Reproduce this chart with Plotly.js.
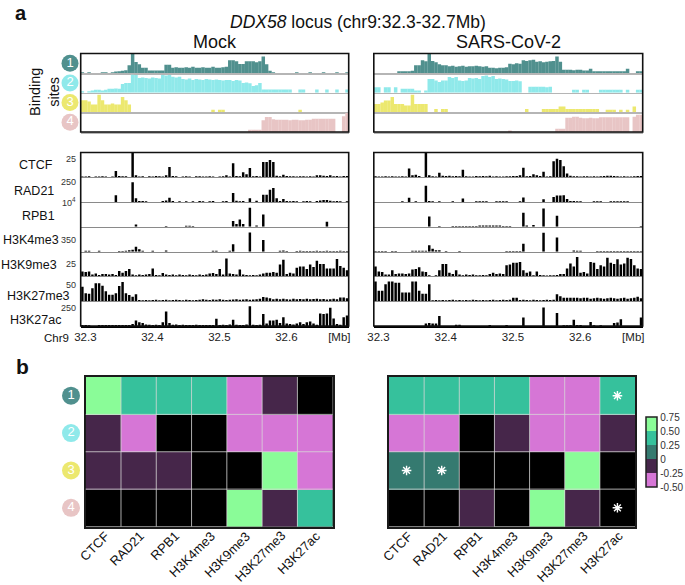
<!DOCTYPE html>
<html>
<head>
<meta charset="utf-8">
<script src="https://cdn.plot.ly/plotly-3.0.1.min.js"></script>
<style>html,body{margin:0;padding:0;background:#fff}</style>
</head>
<body>
<div id="chart" style="width:685px;height:585px"></div>
<script>
// ---------------- data ----------------
// genome bins, 5 kb each, chr9 32.293-32.693 Mb (bin centres)
const bins = Array.from({ length: 80 }, (_, i) => +(32.2955 + i * 0.005).toFixed(4));

const siteIds = ["1", "2", "3", "4"];

// binding-site tracks, % of track height (Mock)
const mockSite1 = [5,0,5,0,0,0,5,5,0,5,8,10,12,15,40,100,57,45,28,28,
  13,13,13,13,13,43,43,28,30,28,28,30,28,33,28,28,30,28,28,33,
  28,28,30,33,66,66,60,47,47,60,60,60,55,60,85,45,12,5,0,0,
  0,0,0,0,5,0,0,0,5,0,0,0,5,0,0,0,5,0,0,5];
const mockSite2 = [8,0,8,12,15,15,12,15,20,20,22,20,45,50,50,92,90,75,78,75,
  72,78,75,72,90,88,90,82,78,82,70,68,72,65,70,68,65,70,68,65,
  68,65,62,65,65,60,65,62,50,52,48,35,38,50,17,17,17,17,17,17,
  17,17,17,0,0,17,17,0,0,0,17,0,0,17,0,0,17,0,0,17];
const mockSite3 = [62,62,55,40,40,90,62,40,40,45,40,40,78,62,40,0,0,0,0,0,
  0,0,0,0,0,0,0,0,0,0,0,0,0,0,0,0,0,0,0,14,
  0,14,14,0,0,0,0,0,0,0,0,0,0,0,0,0,0,0,0,0,
  0,0,0,0,0,14,0,0,0,0,0,0,0,0,0,0,0,0,0,0];
const mockSite4 = [0,0,0,0,0,0,0,0,0,0,0,0,0,0,0,0,0,0,0,0,
  0,0,0,0,0,0,0,0,0,0,0,0,0,0,0,0,0,0,0,0,
  0,0,0,0,0,0,0,0,0,0,11,11,11,11,60,76,76,65,62,62,
  62,62,60,62,62,60,60,62,62,68,68,68,68,68,68,68,0,0,80,97];

// binding-site tracks (SARS-CoV-2)
const sarsSite1 = [0,0,0,0,0,0,0,10,10,10,10,12,40,40,65,60,100,62,55,45,
  40,40,35,38,33,35,38,33,35,35,38,35,33,35,28,28,25,28,28,30,
  48,45,50,48,65,62,65,68,58,60,55,58,60,62,85,58,17,17,17,15,
  17,17,14,14,22,10,10,10,10,10,10,10,10,10,10,22,0,0,10,10];
const sarsSite2 = [28,28,0,28,28,0,28,0,20,20,20,20,12,12,0,12,70,70,62,55,
  62,62,80,75,80,62,60,62,75,72,75,70,85,88,80,85,70,72,70,68,
  60,60,62,58,0,0,30,30,30,30,30,28,30,0,0,0,0,0,0,15,
  15,0,15,15,0,0,0,15,15,15,15,15,15,15,0,15,0,0,15,15];
const sarsSite3 = [43,43,50,60,60,78,43,43,43,35,35,90,43,43,43,43,0,0,17,0,
  17,17,0,0,0,0,0,0,0,0,0,0,0,0,0,0,0,0,0,0,
  0,0,0,0,0,17,0,0,0,0,17,17,17,17,17,30,30,17,17,17,
  17,17,17,17,17,17,17,0,0,14,14,14,0,14,0,14,0,30,0,0];
const sarsSite4 = [0,0,0,0,0,0,0,0,0,0,0,0,0,0,0,0,0,0,0,0,
  0,0,0,0,0,0,0,0,0,0,0,0,0,0,0,0,0,0,0,0,
  8,0,0,0,0,0,0,0,0,0,0,0,0,0,17,17,17,72,72,78,
  78,72,70,70,72,70,70,75,75,75,75,75,75,75,75,75,0,78,88,88];

// ChIP-seq tracks, % of track scale
const chipNames = ["CTCF", "RAD21", "RPB1", "H3K4me3", "H3K9me3", "H3K27me3", "H3K27ac"];
const chipScale = ["25", "250", "10<sup>4</sup>", "350", "25", "50", "250"];

const mockCTCF = [3,3,4,0,3,3,4,3,0,3,25,5,4,4,0,100,8,3,4,0,
  4,3,5,4,3,8,42,5,4,0,3,4,3,0,4,4,3,3,4,3,
  0,3,4,8,3,57,5,4,20,12,37,4,5,3,62,62,70,62,6,4,
  10,5,4,4,3,4,4,3,4,3,8,8,6,5,8,4,5,3,5,5];
const mockRAD21 = [0,0,0,0,0,0,0,0,0,0,28,0,0,0,0,80,15,4,4,3,
  0,0,0,0,4,6,17,4,0,3,0,3,0,3,0,4,3,0,3,4,
  0,0,3,4,0,37,5,3,4,0,15,0,5,0,30,30,50,57,15,4,
  12,4,3,4,3,0,3,4,3,0,4,6,8,8,5,3,4,3,0,3];
const mockRPB1 = [0,0,0,0,0,0,0,0,0,0,0,0,0,0,0,0,10,0,0,0,
  0,0,0,0,0,3,0,0,0,0,0,4,4,3,0,0,0,0,0,0,
  0,0,0,0,0,24,12,30,12,0,77,0,5,0,50,0,0,0,0,0,
  0,0,0,0,0,0,0,0,0,0,0,0,0,21,0,0,0,0,0,0];
const mockH3K4me3 = [0,4,4,0,0,4,0,0,0,0,0,3,3,4,6,8,20,10,4,0,
  0,4,0,0,0,5,0,0,0,0,0,0,0,0,0,0,0,0,0,4,
  4,0,0,0,4,30,0,0,0,0,77,0,0,0,47,0,0,0,0,4,
  5,3,0,0,3,4,3,3,3,3,4,3,3,4,3,3,3,4,3,3];
const mockH3K9me3 = [20,18,20,8,12,6,10,10,8,10,6,22,15,22,30,8,5,8,6,8,
  10,32,6,5,14,8,6,8,5,8,6,5,8,6,5,8,6,8,12,14,
  10,30,8,72,12,10,8,28,8,6,5,6,5,8,12,15,15,18,15,48,
  67,10,15,12,35,40,40,30,48,38,63,50,50,32,32,32,70,42,35,25];
const mockH3K27me3 = [58,32,30,52,72,72,62,40,26,26,32,61,78,32,25,18,28,5,4,5,
  4,5,6,4,5,6,4,5,6,5,4,6,5,4,5,6,8,6,5,7,
  6,8,6,5,6,7,8,6,7,8,6,7,8,10,17,15,12,8,10,8,
  10,8,7,10,8,9,8,10,8,9,10,8,9,7,8,10,8,15,15,12];
const mockH3K27ac = [4,4,3,0,0,4,4,4,4,4,4,4,4,4,4,8,22,15,12,6,
  5,4,5,4,15,58,12,5,6,4,5,4,4,4,5,4,4,4,4,4,
  29,4,5,4,6,25,5,4,4,6,80,5,4,5,48,10,22,22,25,12,
  35,10,8,6,10,15,8,15,18,10,5,50,48,50,74,30,8,5,35,42];

const sarsCTCF = [4,3,3,4,3,4,3,3,4,3,35,8,10,5,0,100,8,4,3,18,
  6,5,6,4,5,4,30,4,3,3,5,4,5,4,6,3,4,3,3,4,
  4,5,5,8,38,4,5,12,8,5,22,3,4,65,75,70,45,15,6,4,
  4,3,4,4,3,4,3,4,5,6,6,5,4,3,4,3,3,4,5,5];
const sarsRAD21 = [0,0,0,0,0,0,0,0,3,0,17,0,3,0,0,66,4,3,0,3,
  0,0,0,3,0,0,14,0,0,0,3,3,3,3,0,0,3,3,3,3,
  0,0,0,3,18,0,0,0,0,0,11,0,0,20,27,27,28,12,4,4,
  3,3,0,0,0,3,3,3,0,0,3,3,3,3,3,3,0,0,0,0];
const sarsRPB1 = [0,0,0,0,0,0,0,0,0,0,0,0,0,0,0,0,42,0,0,3,
  0,0,0,3,3,3,3,3,3,3,3,5,5,5,5,5,5,5,3,3,
  3,0,0,0,57,5,0,7,0,0,74,0,0,0,45,0,0,0,0,0,
  0,0,0,0,0,0,0,0,0,0,0,0,0,0,0,0,0,0,0,3];
const sarsH3K4me3 = [3,3,3,3,0,3,3,0,0,0,0,4,4,4,4,4,26,12,6,6,
  0,3,0,0,0,3,0,0,0,0,0,0,0,0,0,0,0,0,0,3,
  3,3,3,3,32,0,0,0,0,0,76,0,0,0,57,0,0,0,0,5,
  4,4,0,0,0,0,3,3,3,3,3,3,3,3,3,3,3,3,3,3];
const sarsH3K9me3 = [40,20,18,8,8,25,10,12,12,10,12,28,30,37,20,18,5,0,5,25,
  50,50,15,10,25,8,5,8,6,8,5,5,6,5,10,15,10,12,10,45,
  48,55,55,58,25,15,20,5,20,6,5,4,5,5,6,10,10,32,52,40,
  78,15,18,12,58,55,30,45,40,75,55,50,69,48,52,75,70,45,32,30];
const sarsH3K27me3 = [80,42,42,68,80,80,74,74,35,35,35,80,80,42,30,30,68,4,5,4,
  5,4,5,6,4,5,4,5,4,6,5,4,5,4,5,6,4,5,6,5,
  6,14,14,5,6,5,4,6,5,4,5,6,5,6,28,20,14,14,14,14,
  14,12,14,14,10,12,14,12,10,12,14,12,10,12,14,10,12,14,18,12];
const sarsH3K27ac = [0,0,0,0,0,0,0,0,0,0,0,0,0,0,0,10,12,10,10,40,
  0,0,0,0,5,5,0,0,0,0,0,0,0,0,4,0,0,0,0,4,
  0,0,0,0,34,0,0,0,0,0,75,0,0,0,52,0,3,3,3,25,
  4,4,0,0,16,3,0,3,0,0,0,12,14,27,0,0,0,0,0,34];

// correlation heatmaps (null = black cell)
const marks = ["CTCF", "RAD21", "RPB1", "H3K4me3", "H3K9me3", "H3K27me3", "H3K27ac"];
const corrMock = [
  [0.6, 0.4, 0.4, 0.4, -0.4, -0.1, null],
  [-0.1, -0.4, null, null, -0.4, -0.4, -0.4],
  [-0.1, -0.1, -0.1, null, null, 0.6, -0.4],
  [null, null, null, null, 0.6, -0.1, 0.4],
];
const corrSars = [
  [0.4, 0.4, 0.4, 0.4, -0.4, -0.4, 0.4],
  [-0.4, -0.4, null, -0.1, -0.4, -0.4, -0.1],
  [0.1, 0.1, null, null, null, 0.6, null],
  [null, null, -0.1, null, 0.6, -0.1, null],
];
const sigSarsMark = ["H3K27ac", "CTCF", "RAD21", "H3K27ac"];
const sigSarsSite = ["1", "3", "3", "4"];

const cbVals = [-0.5, -0.25, 0, 0.25, 0.5, 0.75];
const cbText = ["-0.50", "-0.25", "0", "0.25", "0.50", "0.75"];

// ---------------- layout helpers ----------------
const W = 685, H = 585;
const px = (v) => v / W;
const py = (v) => 1 - v / H;

const siteColors = ["#50908e", "#8fe9ea", "#ece86f", "#e8c5c5"];
const corrColors = ["#d676d6", "#46264a", "#357a70", "#36c19c", "#8afc98"];
const corrScale = [];
corrColors.forEach((c, i) => {
  corrScale.push([i / 5, c], [(i + 1) / 5, c]);
});

const FONT = "Liberation Sans, Arial, Helvetica, sans-serif";
const xRange = [32.293, 32.693];
const bindTop = 53.5, bindBot = 132, chipTop = 152.5, chipBot = 326;

const panels = [
  { name: "Mock", x0: 80.7, x1: 348.7,
    binding: [mockSite1, mockSite2, mockSite3, mockSite4],
    chip: [mockCTCF, mockRAD21, mockRPB1, mockH3K4me3, mockH3K9me3, mockH3K27me3, mockH3K27ac] },
  { name: "SARS-CoV-2", x0: 373.8, x1: 642.7,
    binding: [sarsSite1, sarsSite2, sarsSite3, sarsSite4],
    chip: [sarsCTCF, sarsRAD21, sarsRPB1, sarsH3K4me3, sarsH3K9me3, sarsH3K27me3, sarsH3K27ac] },
];

const data = [];
const layout = {
  width: W, height: H,
  margin: { l: 0, r: 0, t: 0, b: 0 },
  paper_bgcolor: "#fff", plot_bgcolor: "rgba(0,0,0,0)",
  font: { family: FONT, color: "#111", size: 12 },
  showlegend: false, barmode: "overlay",
  shapes: [], annotations: [],
};

let ax = 0;
const axId = (n) => (n === 1 ? "" : String(n));

panels.forEach((p) => {
  const bh = (bindBot - bindTop) / 4;
  const ch = (chipBot - chipTop) / 7;
  const tracks = [];
  p.binding.forEach((v, i) => tracks.push({ v, color: siteColors[i], w: 0.0052, top: bindTop + i * bh, h: bh, line: "#b5b5b5", lw: 1.5 }));
  p.chip.forEach((v, i) => tracks.push({ v, color: "#000", w: 0.0037, top: chipTop + i * ch, h: ch, line: i === 6 ? "#000" : "#8a8a8a", lw: i === 6 ? 1.5 : 1, last: i === 6 }));

  tracks.forEach((t) => {
    ax++;
    const id = axId(ax);
    layout["xaxis" + id] = {
      domain: [px(p.x0), px(p.x1)], range: xRange, anchor: "y" + id,
      showgrid: false, zeroline: false, showline: true, linecolor: t.line, linewidth: t.lw,
      ticks: "", showticklabels: !!t.last, fixedrange: true,
      tickvals: [32.3, 32.4, 32.5, 32.6, 32.679],
      ticktext: ["32.3", "32.4", "32.5", "32.6", "[Mb]"],
      tickfont: { size: 11.5, color: "#222" },
    };
    layout["yaxis" + id] = {
      domain: [py(t.top + t.h), py(t.top)], range: [0, 100], anchor: "x" + id,
      visible: false, fixedrange: true,
    };
    data.push({
      type: "bar", x: bins, y: t.v, xaxis: "x" + id, yaxis: "y" + id,
      width: t.w, marker: { color: t.color, line: { width: 0 } }, hoverinfo: "skip",
    });
  });

  // outer boxes
  [[bindTop, bindBot], [chipTop, chipBot]].forEach(([a, b]) => {
    layout.shapes.push({
      type: "rect", xref: "paper", yref: "paper",
      x0: px(p.x0), x1: px(p.x1), y0: py(b), y1: py(a),
      line: { color: "#111", width: 1.6 }, fillcolor: "rgba(0,0,0,0)",
    });
  });

  layout.annotations.push({
    text: p.name, x: px((p.x0 + p.x1) / 2), y: py(42), xref: "paper", yref: "paper",
    showarrow: false, font: { size: 18 }, xanchor: "center", yanchor: "middle",
  });
});

// heatmaps
const heatPanels = [
  { z: corrMock, x0: 85.7, x1: 332.7, scale: false },
  { z: corrSars, x0: 389, x1: 635, scale: true },
];
const heatTop = 377, heatBot = 526.5;
heatPanels.forEach((hp) => {
  ax++;
  const id = axId(ax);
  layout["xaxis" + id] = {
    domain: [px(hp.x0), px(hp.x1)], anchor: "y" + id, type: "category",
    categoryorder: "array", categoryarray: marks, range: [-0.5, marks.length - 0.5],
    showticklabels: false, ticks: "", showline: true, mirror: true, linecolor: "#1a1a1a", linewidth: 2,
    showgrid: false, zeroline: false, fixedrange: true,
  };
  layout["yaxis" + id] = {
    domain: [py(heatBot), py(heatTop)], anchor: "x" + id, type: "category",
    categoryorder: "array", categoryarray: siteIds, range: [siteIds.length - 0.5, -0.5],
    showticklabels: false, ticks: "", showline: true, mirror: true, linecolor: "#1a1a1a", linewidth: 2,
    showgrid: false, zeroline: false, fixedrange: true,
  };
  layout.shapes.push({
    type: "rect", xref: "x" + id + " domain", yref: "y" + id + " domain",
    x0: 0, x1: 1, y0: 0, y1: 1, fillcolor: "#000", line: { width: 0 }, layer: "below",
  });
  for (let i = 1; i < marks.length; i++) {
    layout.shapes.push({
      type: "line", xref: "x" + id, yref: "y" + id + " domain", x0: i - 0.5, x1: i - 0.5, y0: 0, y1: 1,
      line: { color: "rgba(215,215,215,0.8)", width: 1 },
    });
  }
  for (let j = 1; j < siteIds.length; j++) {
    layout.shapes.push({
      type: "line", xref: "x" + id + " domain", yref: "y" + id, x0: 0, x1: 1, y0: j - 0.5, y1: j - 0.5,
      line: { color: "rgba(215,215,215,0.8)", width: 1 },
    });
  }
  // rotated column labels
  marks.forEach((m, i) => {
    layout.annotations.push({
      text: m, x: i, xref: "x" + id, y: py(527), yref: "paper", xshift: 10,
      xanchor: "right", yanchor: "top", textangle: -45, showarrow: false,
      font: { size: 13, color: "#111" }, borderpad: 0,
    });
  });
  data.push({
    type: "heatmap", z: hp.z, x: marks, y: siteIds, xaxis: "x" + id, yaxis: "y" + id,
    zmin: -0.5, zmax: 0.75, colorscale: corrScale, showscale: hp.scale, hoverongaps: false,
    colorbar: {
      x: px(645.7), xanchor: "left", y: py(452), yanchor: "middle",
      len: 70, lenmode: "pixels", thickness: 11, thicknessmode: "pixels",
      outlinewidth: 1.5, outlinecolor: "#222", xpad: 0, ypad: 0,
      tickvals: cbVals, ticktext: cbText, ticks: "", tickfont: { size: 10, color: "#333" },
    },
  });
  if (hp.scale) {
    data.push({
      type: "scatter", mode: "markers", x: sigSarsMark, y: sigSarsSite,
      xaxis: "x" + id, yaxis: "y" + id, hoverinfo: "skip",
      marker: { symbol: "asterisk-open", size: 8, color: "#fff", line: { color: "#fff", width: 1.4 } },
    });
  }
});

// numbered site circles (panel a and panel b)
[[bindTop, bindBot, 61, 79, 17], [heatTop, heatBot, 62, 80, 18]].forEach(([top, bot, l, r, size]) => {
  ax++;
  const id = axId(ax);
  layout["xaxis" + id] = { domain: [px(l), px(r)], range: [-1, 1], anchor: "y" + id, visible: false, fixedrange: true };
  layout["yaxis" + id] = {
    domain: [py(bot), py(top)], anchor: "x" + id, type: "category",
    categoryorder: "array", categoryarray: siteIds, range: [siteIds.length - 0.5, -0.5],
    visible: false, fixedrange: true,
  };
  data.push({
    type: "scatter", mode: "markers+text", x: siteIds.map(() => 0), y: siteIds,
    xaxis: "x" + id, yaxis: "y" + id, hoverinfo: "skip", cliponaxis: false,
    marker: { size, color: siteColors, line: { width: 0 } },
    text: siteIds, textposition: "middle center", textfont: { color: "#fff", size: 13 },
  });
});

// ChIP track names and scales (Mock side only)
const nameX = [55, 56, 57, 61, 59, 72, 63];
const nameY = [165, 191, 216, 240, 265, 296, 320];
const scaleY = [159, 182, 202, 240, 264, 284.5, 308];
chipNames.forEach((n, i) => {
  layout.annotations.push({
    text: n, x: px(nameX[i]), y: py(nameY[i]), xref: "paper", yref: "paper",
    showarrow: false, xanchor: "right", yanchor: "middle", font: { size: 12.5 },
  });
  layout.annotations.push({
    text: chipScale[i], x: px(78), y: py(scaleY[i]), xref: "paper", yref: "paper",
    showarrow: false, xanchor: "right", yanchor: "middle", font: { size: 9, color: "#333" },
  });
});

const texts = [
  { text: "<b>a</b>", x: 21, y: 12.5, size: 20 },
  { text: "<b>b</b>", x: 22, y: 366, size: 21 },
  { text: "<i>DDX58</i> locus (chr9:32.3-32.7Mb)", x: 358, y: 22, size: 17.5 },
  { text: "Binding<br>sites", x: 44, y: 92, size: 14.5, angle: -90 },
  { text: "Chr9", x: 56, y: 338, size: 11.5 },
];
texts.forEach((t) => {
  layout.annotations.push({
    text: t.text, x: px(t.x), y: py(t.y), xref: "paper", yref: "paper", showarrow: false,
    xanchor: "center", yanchor: "middle", textangle: t.angle || 0, font: { size: t.size }, borderpad: 0,
  });
});

Plotly.newPlot("chart", data, layout, { displayModeBar: false, staticPlot: true });
</script>
</body>
</html>
